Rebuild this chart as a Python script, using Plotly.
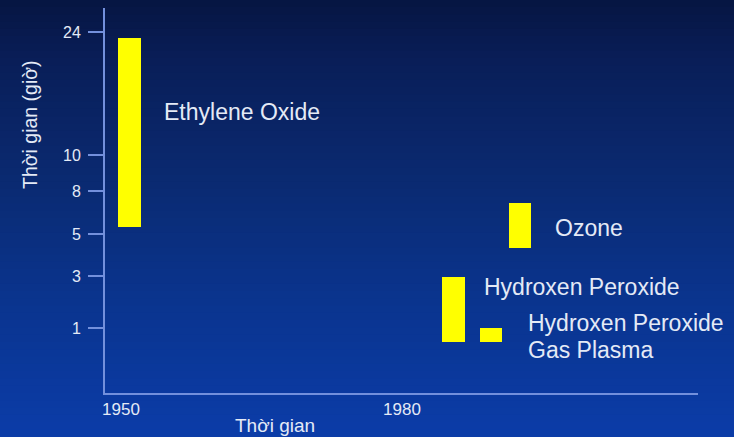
import numpy as np
import plotly.graph_objects as go

# ---- data ----
methods = ["Ethylene Oxide", "Hydroxen Peroxide", "Hydroxen Peroxide Gas Plasma", "Ozone"]
years = [1950.9, 1985.5, 1989.5, 1992.6]          # introduction period
hours_low = [5.5, 0.78, 0.78, 4.33]               # min cycle time (h)
hours_high = [23.3, 2.96, 1.0, 7.16]              # max cycle time (h)
y_tick_hours = [1, 3, 5, 8, 10, 24]
y_tick_text = ["1", "3", "5", "8", "10", "24"]
x_tick_years = [1950, 1980]
x_tick_text = ["1950", "1980"]

# ---- non-linear time scale used on the original slide ----
HOUR_KNOTS = [0, 1, 3, 5, 8, 10, 24]
UNIT_KNOTS = [0, 65, 117, 159, 202, 238, 361]


def scale(h):
    return np.interp(h, HOUR_KNOTS, UNIT_KNOTS)


lo = scale(hours_low)
hi = scale(hours_high)

FONT = "Liberation Sans, Arial, sans-serif"
TXT = "#e4eaf6"
AX = "#7390dc"

fig = go.Figure()
fig.add_trace(go.Bar(
    x=years, y=hi - lo, base=lo, width=2.4,
    marker=dict(color="#ffff00", line=dict(width=0)),
    hoverinfo="skip", showlegend=False,
))

# ---- gradient background (bands in paper coords) ----
W, H = 734, 437
ml, mr, mt, mb = 105, 36, 8, 44
pw, ph = W - ml - mr, H - mt - mb
stops_y = [0, 60, 180, 300, 437]
stops_c = [(6, 22, 66), (9, 30, 88), (10, 42, 113), (10, 52, 142), (11, 60, 168)]
nb = 60
shapes = []
for i in range(nb):
    y0p = H * i / nb
    y1p = H * (i + 1) / nb
    ym = (y0p + y1p) / 2
    c = [int(round(np.interp(ym, stops_y, [s[k] for s in stops_c]))) for k in range(3)]
    shapes.append(dict(
        type="rect", xref="paper", yref="paper", layer="below",
        x0=-ml / pw, x1=1 + mr / pw,
        y0=(H - mb - y1p) / ph - 0.001, y1=(H - mb - y0p) / ph + 0.001,
        fillcolor=f"rgb({c[0]},{c[1]},{c[2]})", line=dict(width=0),
    ))

# ---- labels ----
ann = []
label_rows = [
    ("Ethylene Oxide", 0, 281, 22),
    ("Hydroxen Peroxide", 1, 106, 18),
    ("Hydroxen Peroxide", 2, 70.5, 25),
    ("Gas Plasma", 2, 43.5, 25),
    ("Ozone", 3, 165, 23),
]
for text, idx, yu, xs in label_rows:
    ann.append(dict(
        text=text, x=years[idx] + 1.2, y=yu, xref="x", yref="y",
        xanchor="left", yanchor="middle", xshift=xs, showarrow=False,
        borderpad=0,
        font=dict(family=FONT, size=23, color=TXT),
    ))
ann.append(dict(text="Thời gian", x=275, y=425, xref="paper", yref="paper",
                xanchor="center", yanchor="middle",
                showarrow=False, font=dict(family=FONT, size=19, color=TXT)))
ann.append(dict(text="Thời gian (giờ)", x=30, y=125, xref="paper", yref="paper",
                xanchor="center", yanchor="middle",
                textangle=-90, showarrow=False,
                font=dict(family=FONT, size=19.5, color=TXT)))
# convert pixel-placed titles to paper coords
for a in ann[-2:]:
    a["x"] = (a["x"] - ml) / pw
    a["y"] = (H - mb - a["y"]) / ph

fig.update_layout(
    width=W, height=H,
    margin=dict(l=ml, r=mr, t=mt, b=mb, pad=0),
    paper_bgcolor="#0a2a70", plot_bgcolor="rgba(0,0,0,0)",
    shapes=shapes, annotations=ann,
    bargap=0,
)
fig.update_xaxes(
    range=[1948.3, 2011.6], tickvals=x_tick_years, ticktext=x_tick_text,
    showgrid=False, zeroline=False, showline=True, linecolor=AX, linewidth=2,
    ticks="", tickfont=dict(family=FONT, size=17, color=TXT),
)
fig.update_yaxes(
    range=[0, 385], tickvals=list(scale(y_tick_hours)), ticktext=y_tick_text,
    showgrid=False, zeroline=False, showline=True, linecolor=AX, linewidth=2,
    ticks="outside", ticklen=15, tickwidth=1.5, tickcolor=AX,
    tickfont=dict(family=FONT, size=16, color=TXT), ticklabelstandoff=4,
)

fig.write_html(
    "out.html",
    config={"displayModeBar": False},
    post_script="document.body.style.margin='0';document.body.style.background='#0a2a70';",
)
